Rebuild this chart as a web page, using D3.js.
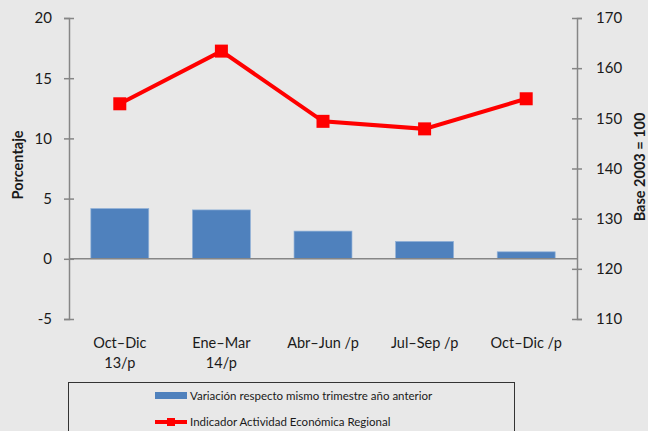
<!DOCTYPE html>
<html>
<head>
<meta charset="utf-8">
<script src="https://cdn.jsdelivr.net/npm/d3@7"></script>
<style>
  body { margin: 0; background: #e8e8e8; }
  text { font-family: Lato, "Open Sans", sans-serif; fill: #1a1a1a; }
</style>
</head>
<body>
<script>
var categories = [["Oct–Dic", "13/p"], ["Ene–Mar", "14/p"], ["Abr–Jun /p"], ["Jul–Sep /p"], ["Oct–Dic /p"]];
var variacion = [4.17, 4.06, 2.3, 1.44, 0.58];
var indicador = [152.9, 163.4, 149.4, 147.9, 153.9];
var leftTicks = [-5, 0, 5, 10, 15, 20];
var rightTicks = [110, 120, 130, 140, 150, 160, 170];

var width = 648, height = 431;
var plotLeft = 69, plotRight = 577, plotTop = 18, plotBottom = 319;

var svg = d3.select("body").append("svg")
    .attr("width", width)
    .attr("height", height);

svg.append("rect").attr("width", width).attr("height", height).attr("fill", "#e8e8e8");

var x = d3.scaleBand()
    .domain(d3.range(categories.length))
    .range([plotLeft, plotRight])
    .paddingInner(0.43)
    .paddingOuter(0.215);

var yL = d3.scaleLinear().domain([-5, 20]).range([plotBottom, plotTop]);
var yR = d3.scaleLinear().domain([110, 170]).range([plotBottom, plotTop]);

var axisColor = "#868686";

// left axis (hyphen minus like the original, not the unicode one)
var gl = svg.append("g").attr("transform", "translate(" + plotLeft + ",0)")
    .call(d3.axisLeft(yL).tickValues(leftTicks).tickSize(5).tickPadding(12)
        .tickFormat(function(d) { return String(d); }));
gl.selectAll(".tick line").attr("x2", 5).attr("x1", -5);
// right axis
var gr = svg.append("g").attr("transform", "translate(" + plotRight + ",0)")
    .call(d3.axisRight(yR).tickValues(rightTicks).tickSize(5).tickPadding(14));
gr.selectAll(".tick line").attr("x1", -5).attr("x2", 5);

svg.selectAll(".domain").attr("stroke", axisColor).attr("stroke-width", 1.5);
svg.selectAll(".tick line").attr("stroke", axisColor).attr("stroke-width", 1.5);
svg.selectAll(".tick text").attr("font-size", "15px").style("font-family", "Lato, sans-serif").attr("fill", "#1a1a1a");

// bars
svg.selectAll("rect.bar")
    .data(variacion)
    .enter()
    .append("rect")
    .attr("class", "bar")
    .attr("x", function(d, i) { return x(i); })
    .attr("width", x.bandwidth())
    .attr("y", function(d) { return yL(Math.max(d, 0)); })
    .attr("height", function(d) { return Math.abs(yL(d) - yL(0)); })
    .attr("fill", "#4f81bd")
    .attr("stroke", "#8fb0d8")
    .attr("stroke-width", 0.7);

// zero line
svg.append("line")
    .attr("x1", plotLeft).attr("x2", plotRight)
    .attr("y1", yL(0)).attr("y2", yL(0))
    .attr("stroke", axisColor).attr("stroke-width", 1.5);

// line series
var line = d3.line()
    .x(function(d, i) { return x(i) + x.bandwidth() / 2; })
    .y(function(d) { return yR(d); });

svg.append("path")
    .datum(indicador)
    .attr("d", line)
    .attr("fill", "none")
    .attr("stroke", "#ff0000")
    .attr("stroke-width", 4);

svg.selectAll("rect.mark")
    .data(indicador)
    .enter()
    .append("rect")
    .attr("class", "mark")
    .attr("x", function(d, i) { return x(i) + x.bandwidth() / 2 - 6.5; })
    .attr("y", function(d) { return yR(d) - 6.5; })
    .attr("width", 13).attr("height", 13)
    .attr("fill", "#ff0000");

// category labels
var cl = svg.selectAll("text.cat")
    .data(categories)
    .enter()
    .append("text")
    .attr("class", "cat")
    .attr("text-anchor", "middle")
    .attr("font-size", "14.5px")
    .attr("x", function(d, i) { return x(i) + x.bandwidth() / 2; })
    .attr("y", 348);
cl.selectAll("tspan")
    .data(function(d) { return d; })
    .enter()
    .append("tspan")
    .attr("x", function() { return d3.select(this.parentNode).attr("x"); })
    .attr("dy", function(d, i) { return i == 0 ? 0 : 20; })
    .text(function(d) { return d; });

// axis titles
svg.append("text")
    .attr("transform", "translate(23," + yL(7.8) + ") rotate(-90)")
    .attr("text-anchor", "middle")
    .attr("font-size", "14.5px")
    .attr("font-weight", "bold")
    .text("Porcentaje");

svg.append("text")
    .attr("transform", "translate(645," + yR(140.3) + ") rotate(-90)")
    .attr("text-anchor", "middle")
    .attr("font-size", "14.5px")
    .attr("font-weight", "bold")
    .text("Base 2003 = 100");

// legend
svg.append("rect")
    .attr("x", 68.5).attr("y", 382.5)
    .attr("width", 446).attr("height", 60)
    .attr("fill", "none")
    .attr("stroke", "#333")
    .attr("stroke-width", 1);

svg.append("rect")
    .attr("x", 155).attr("y", 392)
    .attr("width", 32).attr("height", 7)
    .attr("fill", "#4f81bd");
svg.append("text")
    .attr("x", 190).attr("y", 400)
    .attr("font-size", "11.5px")
    .text("Variación respecto mismo trimestre año anterior");

svg.append("line")
    .attr("x1", 155).attr("x2", 187)
    .attr("y1", 422).attr("y2", 422)
    .attr("stroke", "#ff0000").attr("stroke-width", 4);
svg.append("rect")
    .attr("x", 167).attr("y", 418)
    .attr("width", 8).attr("height", 8)
    .attr("fill", "#ff0000");
svg.append("text")
    .attr("x", 190).attr("y", 426)
    .attr("font-size", "11.5px")
    .text("Indicador Actividad Económica Regional");
</script>
</body>
</html>
